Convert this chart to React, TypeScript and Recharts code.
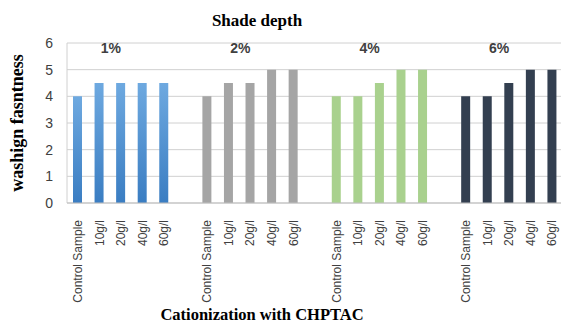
import React from 'react';
import { BarChart, Bar, XAxis, YAxis, CartesianGrid, Cell, ReferenceDot } from 'recharts';

const samples = ['Control Sample', '10g/l', '20g/l', '40g/l', '60g/l'];
const shades = ['1%', '2%', '4%', '6%'];
const shade1 = [4, 4.5, 4.5, 4.5, 4.5];
const shade2 = [4, 4.5, 4.5, 5, 5];
const shade4 = [4, 4, 4.5, 5, 5];
const shade6 = [4, 4, 4.5, 5, 5];
const yTicks = [0, 1, 2, 3, 4, 5, 6];

const seriesValues = [shade1, shade2, shade4, shade6];
const shadeColors = ['url(#blueFill)', '#a5a5a5', '#a9d18e', '#333f50'];

type Row = { key: string; label: string; value: number | null; color: string };

// one row per sample, with an empty slot between shade groups
const rows: Row[] = [];
shades.forEach((shade, gi) => {
  samples.forEach((s, i) => {
    rows.push({ key: `${shade}|${s}`, label: s, value: seriesValues[gi][i], color: shadeColors[gi] });
  });
  if (gi < shades.length - 1) rows.push({ key: `gap${gi}`, label: '', value: null, color: 'none' });
});

const labelOf: Record<string, string> = {};
rows.forEach((r) => (labelOf[r.key] = r.label));

const sans = 'Liberation Sans, Arial, sans-serif';
const serif = 'Liberation Serif, Times New Roman, serif';

const RotatedTick = (props: any) => {
  const { x, y, payload } = props;
  return (
    <text
      x={x}
      y={y + 9}
      transform={`rotate(-90, ${x}, ${y + 9})`}
      textAnchor="end"
      dy="0.35em"
      fontSize={12}
      fontFamily={sans}
      fill="#404040"
    >
      {labelOf[payload.value]}
    </text>
  );
};

export default function App() {
  return (
    <div style={{ position: 'absolute', left: 0, top: 0, width: 561, height: 323, overflow: 'hidden', background: '#fff' }}>
      <div
        style={{
          position: 'absolute',
          left: 0,
          width: 514,
          top: 11,
          textAlign: 'center',
          fontFamily: serif,
          fontWeight: 'bold',
          fontSize: 17,
          color: '#000',
        }}
      >
        Shade depth
      </div>
      <BarChart width={563} height={323} data={rows} margin={{ top: 43, right: 0, bottom: 0, left: 0 }} barSize={9}>
        <defs>
          <linearGradient id="blueFill" x1="0" y1="0" x2="0" y2="1">
            <stop offset="0%" stopColor="#6ea9e0" />
            <stop offset="100%" stopColor="#3a7dc2" />
          </linearGradient>
        </defs>
        <CartesianGrid vertical={false} stroke="#d0d0d0" />
        <YAxis
          domain={[0, 6]}
          ticks={yTicks}
          width={67}
          tickLine={false}
          axisLine={{ stroke: '#d0d0d0' }}
          tickMargin={8}
          tick={{ fontSize: 14, fill: '#404040', fontFamily: sans }}
          label={({ viewBox }: any) => (
            <text
              x={viewBox.x + 17}
              y={viewBox.y + viewBox.height / 2}
              transform={`rotate(-90, ${viewBox.x + 17}, ${viewBox.y + viewBox.height / 2})`}
              textAnchor="middle"
              dy="0.35em"
              fontFamily={serif}
              fontWeight="bold"
              fontSize={18}
              fill="#000"
            >
              washign fasntness
            </text>
          )}
        />
        <XAxis
          dataKey="key"
          interval={0}
          height={120}
          tickLine={false}
          axisLine={{ stroke: '#bfbfbf' }}
          tick={<RotatedTick />}
          label={({ viewBox }: any) => (
            <text
              x={262}
              y={viewBox.y + viewBox.height - 3}
              textAnchor="middle"
              fontFamily={serif}
              fontWeight="bold"
              fontSize={16.5}
              fill="#000"
            >
              Cationization with CHPTAC
            </text>
          )}
        />
        <Bar dataKey="value" isAnimationActive={false}>
          {rows.map((r) => (
            <Cell key={r.key} fill={r.color} />
          ))}
        </Bar>
        {shades.map((shade) => (
          <ReferenceDot
            key={shade}
            x={`${shade}|${samples[2]}`}
            y={6}
            r={0}
            fill="none"
            stroke="none"
            label={({ viewBox }: any) => (
              <text
                x={viewBox.x - 10}
                y={viewBox.y + 10}
                textAnchor="middle"
                fontFamily={sans}
                fontWeight="bold"
                fontSize={14}
                fill="#404040"
              >
                {shade}
              </text>
            )}
          />
        ))}
      </BarChart>
    </div>
  );
}
